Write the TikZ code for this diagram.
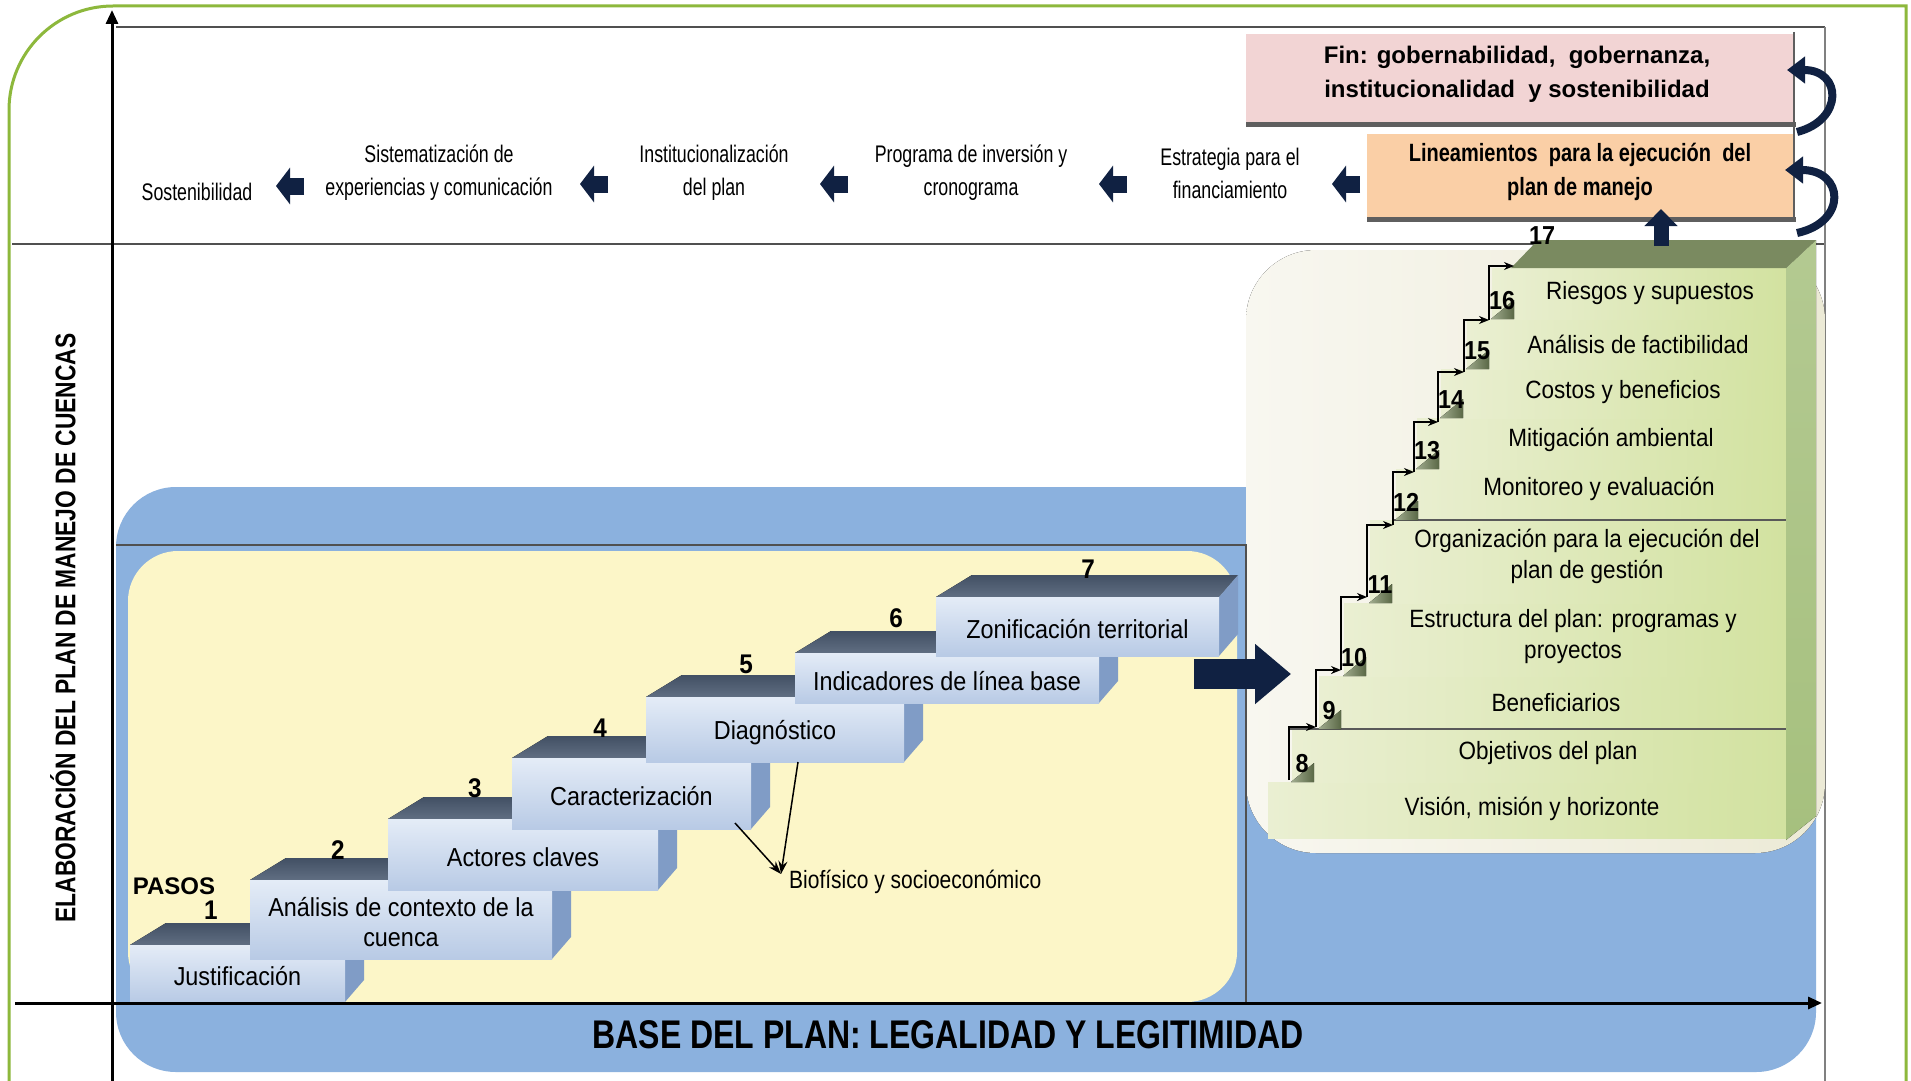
\documentclass[tikz,border=0pt]{standalone}
\usepackage{fontspec}
\setmainfont{Liberation Sans}
\newfontfamily\condf[FakeStretch=0.9]{Liberation Sans}
\newfontfamily\narrf[FakeStretch=0.74]{Liberation Sans}
\newfontfamily\slimf[FakeStretch=0.8]{Liberation Sans}
\newfontfamily\biof[FakeStretch=0.84]{Liberation Sans}
\usetikzlibrary{arrows.meta}

\definecolor{navy}{RGB}{16,33,66}
\definecolor{framegreen}{RGB}{141,184,60}
\definecolor{planblue}{RGB}{139,177,222}
\definecolor{paleyellow}{RGB}{252,246,200}
\definecolor{panelbeige}{RGB}{236,234,214}
\definecolor{panellight}{RGB}{248,247,240}
\definecolor{rulegray}{RGB}{80,80,80}
\definecolor{finpink}{RGB}{242,212,212}
\definecolor{linorange}{RGB}{250,207,166}
\definecolor{shadowgray}{RGB}{95,95,95}
\definecolor{slatetop}{RGB}{66,80,100}
\definecolor{slatetop2}{RGB}{96,110,130}
\definecolor{facetop}{RGB}{228,236,247}
\definecolor{facebot}{RGB}{184,202,229}
\definecolor{faceside}{RGB}{128,156,198}
\definecolor{rowleft}{RGB}{234,239,210}
\definecolor{rowright}{RGB}{210,226,160}
\definecolor{greenside}{RGB}{166,192,126}
\definecolor{olivetop}{RGB}{122,138,96}
\definecolor{olivedark}{RGB}{90,104,70}

% one stair block of the left staircase: x0 y0 x1 y1 name text
\newcommand\stepblock[6]{%
  \fill[top color=slatetop, bottom color=slatetop2]
    (#1,#2) -- (#1+36,#2-22) -- (#3+19,#2-22) -- (#3,#2) -- cycle;
  \fill[faceside] (#3,#2) -- (#3+19,#2-22) -- (#3+19,#4-22) -- (#3,#4) -- cycle;
  \fill[top color=facetop, bottom color=facebot] (#1,#2) rectangle (#3,#4);
  \node[steptext] (#5) at ({(#1+#3)/2},{(#2+#4)/2+3}) {#6};
}
% one green row of the right staircase: xleft ytop ybottom name text xtext ytext
\newcommand\greenrow[7]{%
  \fill[left color=rowleft, right color=rowright] (#1,#2) rectangle (1786,#3);
  \node[rowtext] (#4) at (#6,#7) {#5};
}
% step number with its small corner wedge: xline ybottom name label
\newcommand\stepnum[4]{%
  \fill[left color=olivetop!70, right color=olivedark] (#1+2,#2) -- (#1+25,#2) -- (#1+25,#2-19) -- cycle;
  \node[numtext] (#3) at (#1+13,#2-18) {#4};
}

\begin{document}
\begin{tikzpicture}[x=1pt,y=-1pt,
  steptext/.style={font=\condf\fontsize{26}{30}\selectfont, align=center, inner sep=0pt},
  rowtext/.style={font=\condf\fontsize{25}{31}\selectfont, align=center, inner sep=0pt},
  bandtext/.style={font=\narrf\fontsize{24}{33}\selectfont, align=center, inner sep=0pt},
  numtext/.style={font=\condf\bfseries\fontsize{26}{28}\selectfont, inner sep=0pt},
  pasonum/.style={font=\condf\bfseries\fontsize{27}{29}\selectfont, inner sep=0pt},
  bandarrow/.style={navy, line width=17pt, -{Triangle[length=14pt,width=36pt]}},
  stair/.style={black, line width=1.6pt, -{Stealth[length=10pt,width=8pt]}},
  thinarrow/.style={black, line width=1.5pt, -{Stealth[length=13pt,width=9pt]}},
  curlarrow/.style={navy, line width=8pt, -{Triangle[length=18pt,width=26pt]}}]

\useasboundingbox (0,0) rectangle (1911,1081);
\fill[white] (0,0) rectangle (1911,1081);

% rules of the upper band
\draw[rulegray, line width=2pt] (116,27) -- (1825,27);
\draw[rulegray, line width=2pt] (12,244) -- (1825,244);
\draw[gray, line width=1.5pt] (1825,27) -- (1825,1081);

% blue base area
\fill[planblue, rounded corners=60pt] (116,487) rectangle (1816,1072);

% beige panel holding the second staircase
\fill[left color=panellight, right color=panelbeige, rounded corners=70pt] (1246,250) rectangle (1825,853);

% yellow area of the first staircase
\fill[paleyellow, rounded corners=50pt] (128,551) rectangle (1237,1002);
\draw[rulegray, line width=2pt] (116,545) -- (1246,545) -- (1246,1003);

% first staircase (steps 1 to 7)
\stepblock{130}{945}{345}{1002}{s1}{Justificación}
\stepblock{250}{880}{552}{959}{s2}{Análisis de contexto de la\\cuenca}
\stepblock{388}{819}{658}{890}{s3}{Actores claves}
\stepblock{512}{758}{751}{829}{s4}{Caracterización}
\stepblock{646}{697}{904}{762}{s5}{Diagnóstico}
\stepblock{795}{653}{1099}{703}{s6}{Indicadores de línea base}
\stepblock{936}{597}{1219}{656}{s7}{Zonificación territorial}

\node[pasonum] (n1) at (211,910) {1};
\node[pasonum] (n2) at (338,850) {2};
\node[pasonum] (n3) at (475,788) {3};
\node[pasonum] (n4) at (600,728) {4};
\node[pasonum] (n5) at (746,664) {5};
\node[pasonum] (n6) at (896,618) {6};
\node[pasonum] (n7) at (1088,569) {7};
\node[font=\bfseries\fontsize{24}{26}\selectfont, inner sep=0pt] (pasos) at (174,886) {PASOS};

% branch of the diagnosis
\node[font=\biof\fontsize{25}{28}\selectfont, inner sep=0pt, anchor=west] (bio) at (789,882) {Biofísico y socioeconómico};
\coordinate (bioT) at (781,874);
\coordinate (carB) at (735,823);
\coordinate (diaB) at (798,762);
\draw[thinarrow] (carB) -- (bioT);
\draw[thinarrow] (diaB) -- (bioT);

% second staircase (steps 8 to 17)
\greenrow{1268}{782}{838}{r0}{Visión, misión y horizonte}{1532}{809}
\greenrow{1292}{729}{782}{r8}{Objetivos del plan}{1548}{753}
\greenrow{1319}{676}{729}{r9}{Beneficiarios}{1556}{703}
\greenrow{1344}{603}{676}{r10}{Estructura del plan: programas y\\proyectos}{1573}{637}
\greenrow{1370}{520}{603}{r11}{Organización para la ejecución del\\plan de gestión}{1587}{556}
\greenrow{1396}{469}{520}{r12}{Monitoreo y evaluación}{1599}{489}
\greenrow{1417}{418}{469}{r13}{Mitigación ambiental}{1611}{440}
\greenrow{1441}{369}{418}{r14}{Costos y beneficios}{1623}{392}
\greenrow{1467}{319}{369}{r15}{Análisis de factibilidad}{1638}{344}
\greenrow{1492}{268}{319}{r16}{Riesgos y supuestos}{1650}{293}

\fill[top color=greenside!85!white, bottom color=greenside] (1786,268) -- (1816,240) -- (1816,816) -- (1786,840) -- cycle;
\fill[olivetop] (1511,268) -- (1538,240) -- (1816,240) -- (1786,268) -- cycle;
\draw[gray!70!black, line width=1.5pt] (1289,729) -- (1786,729);
\draw[gray!70!black, line width=1.5pt] (1393,520) -- (1786,520);

\stepnum{1289}{782}{n8}{8}
\stepnum{1316}{729}{n9}{9}
\stepnum{1341}{676}{n10}{10}
\stepnum{1367}{603}{n11}{11}
\stepnum{1393}{520}{n12}{12}
\stepnum{1414}{469}{n13}{13}
\stepnum{1438}{418}{n14}{14}
\stepnum{1464}{369}{n15}{15}
\stepnum{1489}{319}{n16}{16}
\node[numtext] (n17) at (1542,236) {17};

\coordinate (p8) at (1289,780);
\coordinate (p9) at (1316,727);
\coordinate (p10) at (1341,670);
\coordinate (p11) at (1367,597);
\coordinate (p12) at (1393,525);
\coordinate (p13) at (1414,472);
\coordinate (p14) at (1438,422);
\coordinate (p15) at (1464,372);
\coordinate (p16) at (1489,320);
\coordinate (p17) at (1514,266);
\draw[stair] (p8) |- (p9);
\draw[stair] (p9) |- (p10);
\draw[stair] (p10) |- (p11);
\draw[stair] (p11) |- (p12);
\draw[stair] (p12) |- (p13);
\draw[stair] (p13) |- (p14);
\draw[stair] (p14) |- (p15);
\draw[stair] (p15) |- (p16);
\draw[stair] (p16) |- (p17);

% passage from the first to the second staircase
\coordinate (bigA) at (1194,674);
\coordinate (bigB) at (1291,674);
\draw[navy, line width=30pt, -{Triangle[length=36pt,width=58pt]}] (bigA) -- (bigB);

% goal boxes
\fill[finpink] (1246,34) rectangle (1794,124);
\draw[shadowgray, line width=5pt] (1246,124) -- (1796,124);
\draw[shadowgray, line width=2.5pt] (1794,32) -- (1794,124);
\node[font=\bfseries\fontsize{24}{34}\selectfont, align=center, inner sep=0pt] (fin) at (1517,74)
  {Fin: gobernabilidad,~ gobernanza,\\institucionalidad~ y sostenibilidad};

\fill[linorange] (1367,134) rectangle (1794,219);
\draw[shadowgray, line width=5pt] (1367,219) -- (1796,219);
\draw[shadowgray, line width=2.5pt] (1794,126) -- (1794,219);
\node[font=\slimf\bfseries\fontsize{25}{34}\selectfont, align=center, inner sep=0pt] (lin) at (1580,172)
  {Lineamientos~ para la ejecución~ del\\plan de manejo};

\coordinate (upA) at (1661,246);
\coordinate (upB) at (1661,209);
\draw[navy, line width=15pt, -{Triangle[length=17pt,width=32pt]}] (upA) -- (upB);

\coordinate (c1a) at (1797,132);
\coordinate (c1b) at (1787,70);
\draw[curlarrow] (c1a) .. controls (1844,120) and (1842,70) .. (c1b);
\coordinate (c2a) at (1797,233);
\coordinate (c2b) at (1785,170);
\draw[curlarrow] (c2a) .. controls (1848,222) and (1844,170) .. (c2b);

% upper band: the sequence of the plan
\node[bandtext] (sost) at (197,192) {Sostenibilidad};
\node[bandtext] (sist) at (439,173) {Sistematización de\\experiencias y comunicación};
\node[bandtext] (inst) at (714,173) {Institucionalización\\del plan};
\node[bandtext] (prog) at (971,173) {Programa de inversión y\\cronograma};
\node[bandtext] (estr) at (1230,173) {Estrategia para el\\financiamiento};

\coordinate (a1s) at (304,186); \coordinate (a1e) at (276,186);
\coordinate (a2s) at (608,184); \coordinate (a2e) at (580,184);
\coordinate (a3s) at (848,184); \coordinate (a3e) at (820,184);
\coordinate (a4s) at (1127,184); \coordinate (a4e) at (1099,184);
\coordinate (a5s) at (1360,184); \coordinate (a5e) at (1332,184);
\draw[bandarrow] (a1s) -- (a1e);
\draw[bandarrow] (a2s) -- (a2e);
\draw[bandarrow] (a3s) -- (a3e);
\draw[bandarrow] (a4s) -- (a4e);
\draw[bandarrow] (a5s) -- (a5e);

% axes
\coordinate (yaxA) at (112,1081);
\coordinate (yaxB) at (112,10);
\coordinate (xaxA) at (15,1003);
\coordinate (xaxB) at (1822,1003);
\draw[black, line width=3pt, -{Triangle[length=14pt,width=12pt]}] (yaxA) -- (yaxB);
\draw[black, line width=3pt, -{Triangle[length=14pt,width=12pt]}] (xaxA) -- (xaxB);

\node[rotate=90, font=\slimf\bfseries\fontsize{28.5}{30}\selectfont, inner sep=0pt] (elab) at (63,628)
  {ELABORACIÓN DEL PLAN DE MANEJO DE CUENCAS};
\node[font=\slimf\bfseries\fontsize{40}{44}\selectfont, inner sep=0pt] (base) at (948,1035)
  {BASE DEL PLAN: LEGALIDAD Y LEGITIMIDAD};

% outer frame
\draw[framegreen, line width=3pt] (9,1081) -- (9,110) arc[start angle=180, end angle=270, radius=104] -- (1906,6) -- (1906,1081);

\end{tikzpicture}
\end{document}
